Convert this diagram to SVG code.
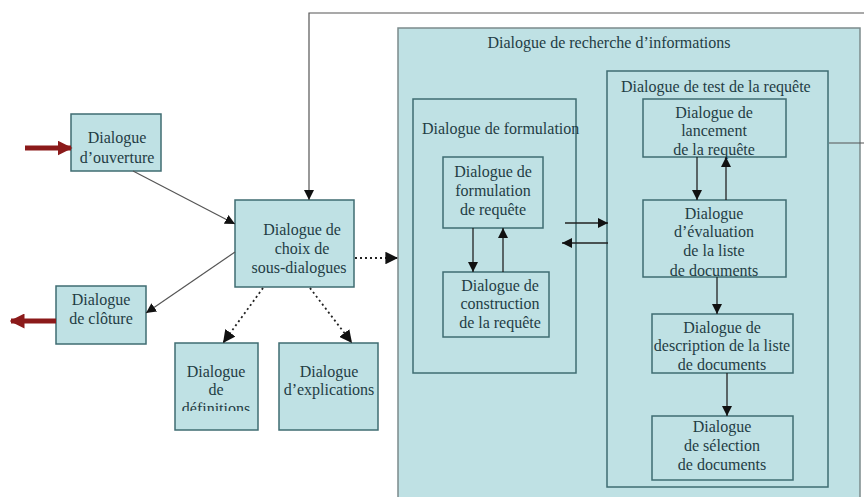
<svg xmlns="http://www.w3.org/2000/svg" width="864" height="497" viewBox="0 0 864 497">
<style>
.box{fill:#bfe1e4;stroke:#3f6c72;stroke-width:1.5}
.outer{fill:#bfe1e4;stroke:#7c8b8c;stroke-width:1.5}
.t{font-family:"Liberation Serif",serif;font-size:16px;fill:#1f3d44;text-anchor:middle}
.tl{font-family:"Liberation Serif",serif;font-size:16px;fill:#1f3d44}
.c{fill:none;stroke:#222;stroke-width:1.3}
.cg{fill:none;stroke:#555;stroke-width:1.2}
.d{fill:none;stroke:#222;stroke-width:1.8;stroke-dasharray:2 3}
.r{fill:none;stroke:#8b1a1a;stroke-width:5}
</style>
<defs>
<marker id="ah" viewBox="0 0 10 10" refX="10" refY="5" markerWidth="10" markerHeight="10" markerUnits="userSpaceOnUse" orient="auto"><path d="M0,0 L10,5 L0,10 z" fill="#111"/></marker>
<marker id="ahd" viewBox="0 0 10 10" refX="10" refY="5" markerWidth="7" markerHeight="7" orient="auto"><path d="M0,0 L10,5 L0,10 z" fill="#111"/></marker>
<marker id="ar" viewBox="0 0 10 10" refX="9" refY="5" markerWidth="3" markerHeight="3" orient="auto"><path d="M0,0 L10,5 L0,10 z" fill="#8b1a1a"/></marker>
<clipPath id="cDef"><rect x="175" y="343" width="83" height="68"/></clipPath>
<clipPath id="cEval"><rect x="643" y="200" width="143" height="77"/></clipPath>
</defs>

<g id="recherche">
<rect class="outer" x="398" y="28" width="462" height="480"/>
<text class="t" x="609" y="48">Dialogue de recherche d’informations</text>
</g>

<g id="formulation">
<rect class="box" x="413" y="99" width="163" height="274"/>
<text class="tl" x="422" y="134">Dialogue de formulation</text>
</g>

<g id="test">
<rect class="box" x="607" y="71" width="221" height="416"/>
<text class="tl" x="621" y="92">Dialogue de test de la requête</text>
</g>

<g id="ouverture">
<rect class="box" x="71" y="114" width="90" height="57"/>
<text class="t" x="117" y="143">Dialogue</text>
<text class="t" x="117" y="163">d’ouverture</text>
</g>

<g id="cloture">
<rect class="box" x="56" y="286" width="90" height="58"/>
<text class="t" x="101" y="305">Dialogue</text>
<text class="t" x="101" y="324">de clôture</text>
</g>

<g id="choix">
<rect class="box" x="235" y="200" width="119" height="87"/>
<text class="t" x="302" y="235">Dialogue de</text>
<text class="t" x="302" y="254">choix de</text>
<text class="t" x="299" y="273">sous-dialogues</text>
</g>

<g id="definitions">
<rect class="box" x="175" y="343" width="83" height="87"/>
<g clip-path="url(#cDef)">
<text class="t" x="216" y="377">Dialogue</text>
<text class="t" x="216" y="395">de</text>
<text class="t" x="216" y="414">définitions</text>
</g>
</g>

<g id="explications">
<rect class="box" x="279" y="343" width="99" height="87"/>
<text class="t" x="329" y="377">Dialogue</text>
<text class="t" x="329" y="395">d’explications</text>
</g>

<g id="formulationRequete">
<rect class="box" x="443" y="157" width="100" height="71"/>
<text class="t" x="493" y="177">Dialogue de</text>
<text class="t" x="493" y="196">formulation</text>
<text class="t" x="493" y="215">de requête</text>
</g>

<g id="construction">
<rect class="box" x="443" y="272" width="106" height="65"/>
<text class="t" x="500" y="291">Dialogue de</text>
<text class="t" x="500" y="309">construction</text>
<text class="t" x="500" y="328">de la requête</text>
</g>

<g id="lancement">
<rect class="box" x="643" y="99" width="143" height="58"/>
<text class="t" x="714" y="118">Dialogue de</text>
<text class="t" x="714" y="136">lancement</text>
<text class="t" x="714" y="155">de la requête</text>
</g>

<g id="evaluation">
<rect class="box" x="643" y="200" width="143" height="77"/>
<g clip-path="url(#cEval)">
<text class="t" x="714" y="219">Dialogue</text>
<text class="t" x="714" y="237">d’évaluation</text>
<text class="t" x="714" y="256">de la liste</text>
<text class="t" x="714" y="276">de documents</text>
</g>
</g>

<g id="description">
<rect class="box" x="652" y="314" width="141" height="59"/>
<text class="t" x="722" y="333">Dialogue de</text>
<text class="t" x="722" y="351">description de la liste</text>
<text class="t" x="722" y="370">de documents</text>
</g>

<g id="selection">
<rect class="box" x="652" y="416" width="141" height="64"/>
<text class="t" x="722" y="432">Dialogue</text>
<text class="t" x="722" y="451">de sélection</text>
<text class="t" x="722" y="470">de documents</text>
</g>

<g id="connectors">
<path class="r" d="M25,148 H71" marker-end="url(#ar)"/>
<path class="r" d="M56,321 H11" marker-end="url(#ar)"/>
<path class="cg" d="M133,171 L235,224" marker-end="url(#ah)"/>
<path class="cg" d="M235,252 L146,313" marker-end="url(#ah)"/>
<path class="d" d="M263,288 L223,343" marker-end="url(#ahd)"/>
<path class="d" d="M310,288 L352,343" marker-end="url(#ahd)"/>
<path class="d" d="M355,258 L398,258" marker-end="url(#ahd)"/>
<path class="cg" d="M829,143 H880 V13 H309 V200" marker-end="url(#ah)"/>
<path class="c" d="M473,228 V272" marker-end="url(#ah)"/>
<path class="c" d="M503,272 V228" marker-end="url(#ah)"/>
<path class="c" d="M565,223 H608" marker-end="url(#ah)"/>
<path class="c" d="M608,243 H562" marker-end="url(#ah)"/>
<path class="c" d="M697,157 V200" marker-end="url(#ah)"/>
<path class="c" d="M726,200 V157" marker-end="url(#ah)"/>
<path class="c" d="M717,277 V314" marker-end="url(#ah)"/>
<path class="c" d="M727,373 V416" marker-end="url(#ah)"/>
</g>
</svg>
